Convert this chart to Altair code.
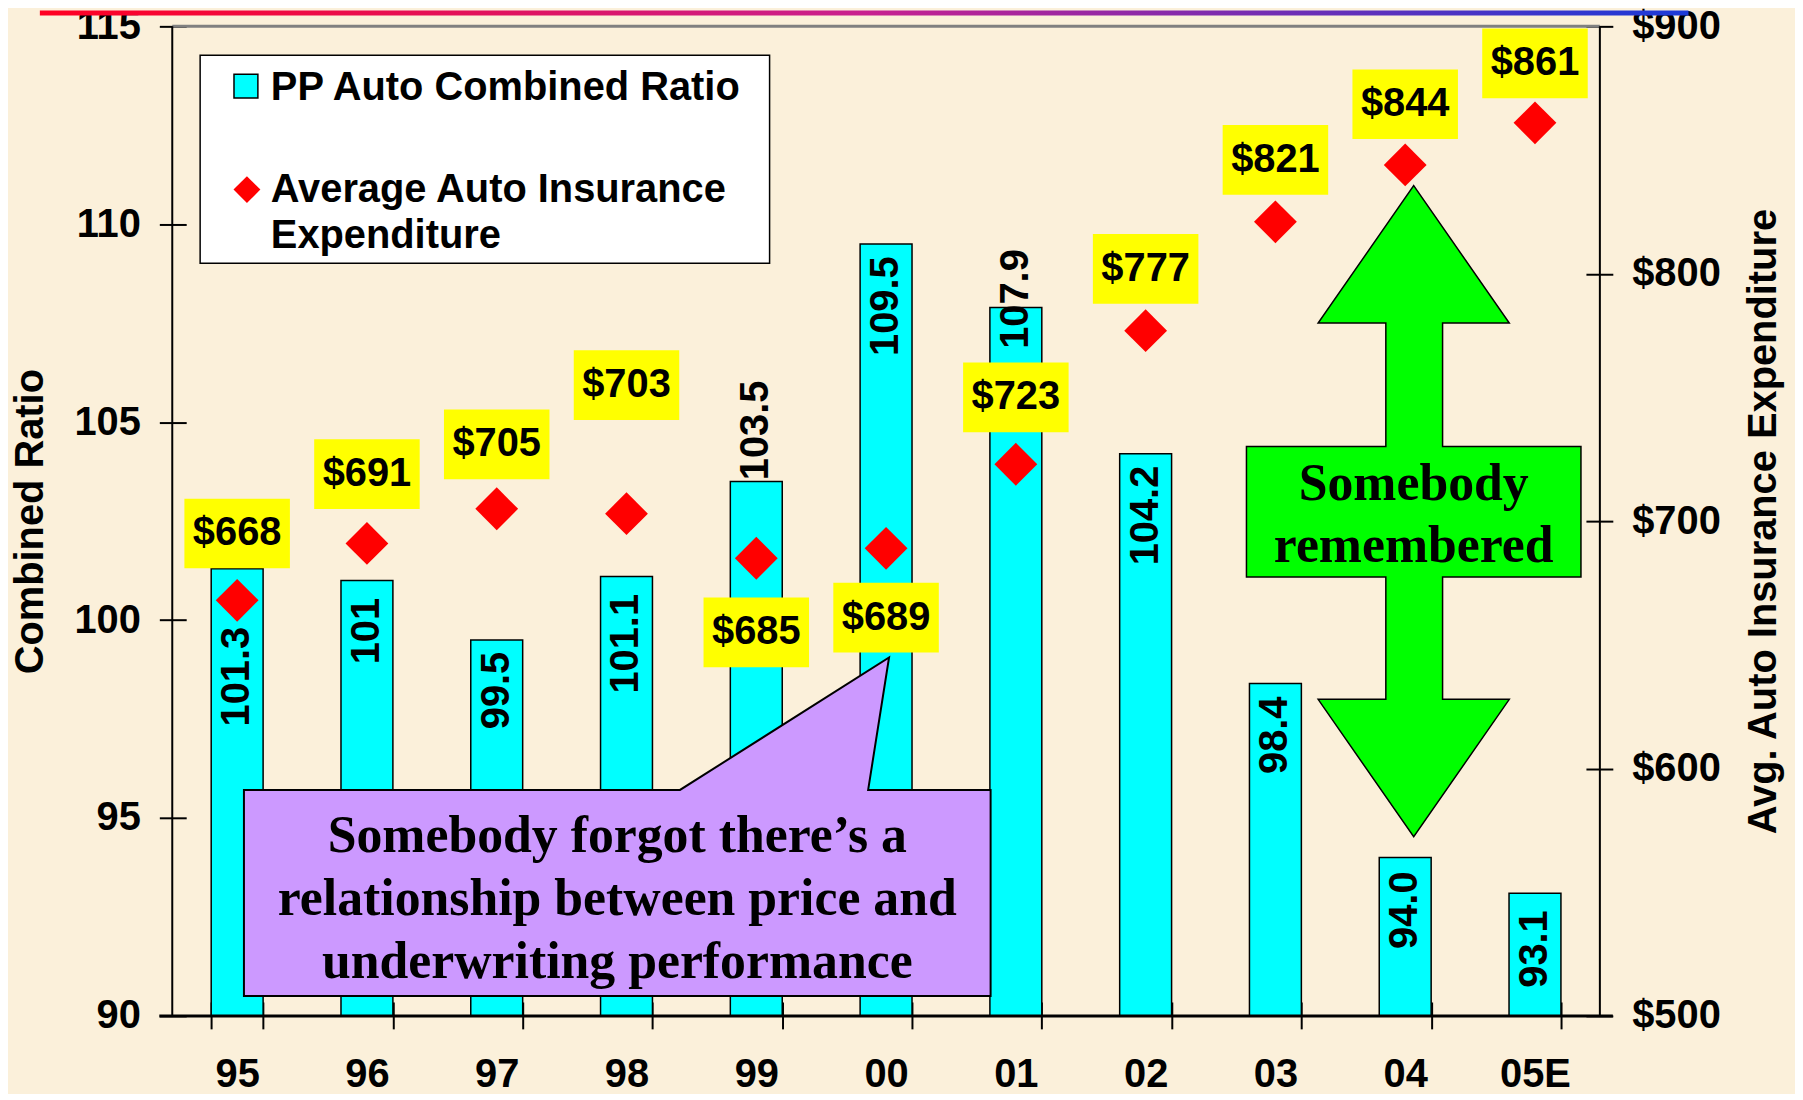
import altair as alt
import pandas as pd

# ---------------- data ----------------
years = ["95", "96", "97", "98", "99", "00", "01", "02", "03", "04", "05E"]
combined_ratio = [101.3, 101.0, 99.5, 101.1, 103.5, 109.5, 107.9, 104.2, 98.4, 94.0, 93.1]
ratio_labels = ["101.3", "101", "99.5", "101.1", "103.5", "109.5", "107.9", "104.2", "98.4", "94.0", "93.1"]
avg_expenditure = [668, 691, 705, 703, 685, 689, 723, 777, 821, 844, 861]
price_labels = ["$668", "$691", "$705", "$703", "$685", "$689", "$723", "$777", "$821", "$844", "$861"]
# where each value label sits (in the units of its own axis)
ratio_label_at = [99.83, 100.56, 99.2, 100.66, 106.05, 109.19, 109.37, 103.9, 98.07, 93.65, 92.67]
price_label_at = [695, 719, 731, 755, 655, 661, 750, 802, 846, 868.5, 885]

ratio_ticks = [90, 95, 100, 105, 110, 115]
price_ticks = [500, 600, 700, 800, 900]

df = pd.DataFrame({
    "year": years,
    "ratio": combined_ratio,
    "ratio_label": ratio_labels,
    "ratio_label_at": ratio_label_at,
    "price": avg_expenditure,
    "price_label": price_labels,
    "price_label_at": price_label_at,
})

# ---------------- style ----------------
W, H = 1434, 994
SANS = "Liberation Sans"
SERIF = "Liberation Serif"
BG = "#FBF0DA"
one = alt.Data(values=[{"k": 1}])

x_enc = alt.X(
    "year:N", sort=years,
    scale=alt.Scale(paddingInner=0.6, paddingOuter=0.3),
    axis=alt.Axis(title=None, tickBand="extent", tickSize=27, offset=-14, domain=False,
                  labelAngle=0, labelPadding=46, labelBaseline="middle",
                  labelFont=SANS, labelFontSize=40, labelFontWeight="bold", labelColor="black",
                  tickColor="black", tickWidth=2, grid=False, labelOverlap=False),
)

ratio_scale = alt.Scale(domain=[90, 115], nice=False, zero=False)
ratio_axis = alt.Axis(values=ratio_ticks, orient="left", tickSize=27, offset=-14, domain=False,
                      labelPadding=19, labelFont=SANS, labelFontSize=40, labelFontWeight="bold",
                      labelColor="black", labelFlush=False, labelOverlap=False,
                      tickColor="black", tickWidth=2, grid=False,
                      title="Combined Ratio", titleFont=SANS, titleFontSize=40, titleFontWeight="bold",
                      titleColor="black", titleAngle=270, titleX=-156, titleY=H / 2,
                      titleAlign="center", titleBaseline="middle")

price_scale = alt.Scale(domain=[500, 900], nice=False, zero=False)
price_axis = alt.Axis(values=price_ticks, orient="right", tickSize=27, offset=-14, domain=False,
                      labelExpr="'$' + datum.value",
                      labelPadding=19, labelFont=SANS, labelFontSize=40, labelFontWeight="bold",
                      labelColor="black", labelFlush=False, labelOverlap=False,
                      tickColor="black", tickWidth=2, grid=False,
                      title="Avg. Auto Insurance Expenditure", titleFont=SANS, titleFontSize=40,
                      titleFontWeight="bold", titleColor="black", titleAngle=270, titleX=178,
                      titleY=H / 2, titleAlign="center", titleBaseline="middle")


def y_ratio(f):
    return alt.Y(f"{f}:Q", scale=ratio_scale, axis=ratio_axis)


def y_price(f):
    return alt.Y(f"{f}:Q", scale=price_scale, axis=price_axis)


# ---------------- left (combined ratio) ----------------
bars = alt.Chart().mark_bar(color="#00FFFF", stroke="black", strokeWidth=1.5).encode(
    x=x_enc, y=y_ratio("ratio"), y2=alt.datum(90)
)
bar_text = alt.Chart().mark_text(angle=270, align="right", baseline="middle", font=SANS,
                                 fontSize=40, fontWeight="bold", color="black").encode(
    x=x_enc, y=y_ratio("ratio_label_at"), text="ratio_label:N"
)
left = alt.layer(bars, bar_text)

# ---------------- right (expenditure) ----------------
BOX = "M-1.514,-1L1.514,-1L1.514,1L-1.514,1Z"
boxes = alt.Chart().mark_point(shape=BOX, filled=True, color="#FFFF00", size=4900, opacity=1).encode(
    x=x_enc, y=y_price("price_label_at")
)
box_text = alt.Chart().mark_text(align="center", baseline="middle", font=SANS, fontSize=40,
                                 fontWeight="bold", color="black").encode(
    x=x_enc, y=y_price("price_label_at"), text="price_label:N"
)
diamonds = alt.Chart().mark_point(shape="diamond", filled=True, color="#FF0000", size=1849,
                                  opacity=1).encode(x=x_enc, y=y_price("price"))


def shape(path, fill, stroke="black", sw=1.5):
    return alt.Chart(one).mark_point(shape=path, size=4, filled=True, fill=fill, stroke=stroke,
                                     strokeWidth=sw, opacity=1, strokeOpacity=1).encode(
        x=alt.value(0), y=alt.value(0))


def rule(x, x2, y, y2, color="black", sw=2):
    return alt.Chart(one).mark_rule(color=color, strokeWidth=sw).encode(
        x=alt.value(x), x2=alt.value(x2), y=alt.value(y), y2=alt.value(y2))


def label(txt, x, y, size, font=SANS, align="left"):
    return alt.Chart(one).mark_text(text=txt, font=font, fontSize=size, fontWeight="bold",
                                    color="black", align=align, baseline="alphabetic").encode(
        x=alt.value(x), y=alt.value(y))


frame = [
    rule(0, W, 0, 0, color="#808080", sw=3),
    rule(0, 0, 0, H),
    rule(W, W, 0, H),
    rule(-13, W + 13, H, H, sw=3),
]

gradient = alt.LinearGradient(
    gradient="linear",
    stops=[alt.GradientStop(color="#FF0022", offset=0),
           alt.GradientStop(color="#C8208F", offset=0.5),
           alt.GradientStop(color="#1A3AD8", offset=1)],
    x1=0, x2=1, y1=0, y2=0)
top_strip = alt.Chart(one).mark_point(shape="M-133,-16L1523,-16L1523,-11L-133,-11Z", size=4,
                                      filled=True, fill=gradient, opacity=1, strokeWidth=0).encode(
    x=alt.value(0), y=alt.value(0))

legend = [
    shape("M28,29L600,29L600,238L28,238Z", "#FFFFFF"),
    alt.Chart(one).mark_point(shape="square", size=576, filled=True, fill="#00FFFF", stroke="black",
                              strokeWidth=1.5, opacity=1).encode(x=alt.value(74), y=alt.value(60)),
    alt.Chart(one).mark_point(shape="diamond", size=729, filled=True, fill="#FF0000",
                              opacity=1, strokeWidth=0).encode(x=alt.value(75), y=alt.value(164)),
    label("PP Auto Combined Ratio", 99, 74, 40),
    label("Average Auto Insurance", 99, 176, 40),
    label("Expenditure", 99, 223, 40),
]

purple = [
    shape("M72,767L510,767L720,634L699,767L822,767L822,974L72,974Z", "#CC99FF", sw=2),
    label("Somebody forgot there\u2019s a", 447, 829, 52, SERIF, "center"),
    label("relationship between price and", 447, 893, 52, SERIF, "center"),
    label("underwriting performance", 447, 956, 52, SERIF, "center"),
]

green = [
    shape("M1247,160L1343,298L1276,298L1276,422L1415,422L1415,553L1276,553L1276,676L1343,676"
          "L1247,814L1151,676L1219,676L1219,553L1079,553L1079,422L1219,422L1219,298L1151,298Z",
          "#00FF00", sw=1.5),
    label("Somebody", 1247, 476, 52, SERIF, "center"),
    label("remembered", 1247, 538, 52, SERIF, "center"),
]

right = alt.layer(diamonds, boxes, box_text, *frame, *green, *purple, *legend, top_strip)

chart = alt.layer(left, right, data=df).resolve_scale(y="independent").properties(
    width=W, height=H,
    padding={"left": 165, "top": 16, "right": 196, "bottom": 76},
    autosize=alt.AutoSizeParams(type="none"),
    background=BG,
).configure_view(stroke=None)

chart.save("out.html", embed_options={"renderer": "svg", "actions": False})
